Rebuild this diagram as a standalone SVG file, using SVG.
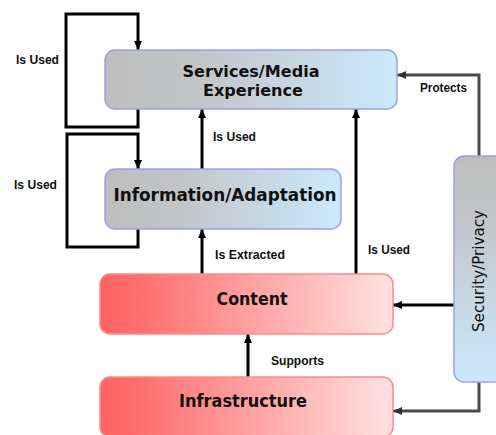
<svg xmlns="http://www.w3.org/2000/svg" width="496" height="435" viewBox="0 0 496 435">
<defs>
<linearGradient id="gBlue" x1="0" y1="0" x2="1" y2="0">
<stop offset="0" stop-color="#bdbdbd"/>
<stop offset="0.3" stop-color="#c2c4c6"/>
<stop offset="1" stop-color="#cbe9fd"/>
</linearGradient>
<linearGradient id="gBlueV" x1="0" y1="0" x2="0" y2="1">
<stop offset="0" stop-color="#bdbdbd"/>
<stop offset="0.25" stop-color="#c2c4c6"/>
<stop offset="1" stop-color="#cbe9fd"/>
</linearGradient>
<linearGradient id="gRed" x1="0" y1="0" x2="1" y2="0">
<stop offset="0" stop-color="#ff6464"/>
<stop offset="0.1" stop-color="#ff6a6a"/>
<stop offset="1" stop-color="#ffe2e2"/>
</linearGradient>
<marker id="arr" markerUnits="userSpaceOnUse" markerWidth="10" markerHeight="10" viewBox="0 0 10 10" refX="9" refY="5" orient="auto">
<path d="M0,1 L9,5 L0,9 z" fill="#000"/>
</marker>
<marker id="arrG" markerUnits="userSpaceOnUse" markerWidth="10" markerHeight="10" viewBox="0 0 10 10" refX="9" refY="5" orient="auto">
<path d="M0,1 L9,5 L0,9 z" fill="#333"/>
</marker>
</defs>
<style>
.bb{stroke:#9d9df5;stroke-width:1.5}
.rb{stroke:#ff8a8a;stroke-width:1.5}
.nt{font-family:"DejaVu Sans",sans-serif;font-weight:bold;fill:#111}
.lt{font-family:"Liberation Sans",sans-serif;font-weight:bold;font-size:12px;fill:#111}
.c{fill:none;stroke:#000;stroke-width:3;marker-end:url(#arr)}
.cg{fill:none;stroke:#4a4a4a;stroke-width:3;marker-end:url(#arrG)}
</style>
<rect width="496" height="435" fill="#fff"/>
<g id="connectors">
<path class="c" d="M138,109 V127 H66 V14 H138 V50"/>
<path class="c" d="M138,229 V247 H67 V134 H138 V169"/>
<path class="c" d="M202,169 V109"/>
<path class="c" d="M202,274 V229"/>
<path class="c" d="M356,274 V109"/>
<path class="c" d="M248,377 V334"/>
<path class="c" d="M454,305 H393"/>
<path class="cg" d="M479,156 V75 H397"/>
<path class="cg" d="M479,382 V411 H393"/>
<text class="lt" x="16" y="64" textLength="43" lengthAdjust="spacingAndGlyphs">Is Used</text>
<text class="lt" x="14" y="189" textLength="43" lengthAdjust="spacingAndGlyphs">Is Used</text>
<text class="lt" x="213" y="141" textLength="43" lengthAdjust="spacingAndGlyphs">Is Used</text>
<text class="lt" x="215" y="259" textLength="70" lengthAdjust="spacingAndGlyphs">Is Extracted</text>
<text class="lt" x="368" y="254" textLength="42" lengthAdjust="spacingAndGlyphs">Is Used</text>
<text class="lt" x="271" y="365" textLength="53" lengthAdjust="spacingAndGlyphs">Supports</text>
<text class="lt" x="420" y="92" textLength="47" lengthAdjust="spacingAndGlyphs">Protects</text>
</g>
<g id="services">
<rect class="bb" x="105" y="50" width="292" height="59" rx="10" fill="url(#gBlue)"/>
<text class="nt" x="251" y="77" font-size="15" text-anchor="middle" textLength="137" lengthAdjust="spacingAndGlyphs">Services/Media</text>
<text class="nt" x="253" y="96" font-size="15" text-anchor="middle" textLength="100" lengthAdjust="spacingAndGlyphs">Experience</text>
</g>
<g id="information">
<rect class="bb" x="105" y="169" width="236" height="60" rx="10" fill="url(#gBlue)"/>
<text class="nt" x="225" y="201" font-size="18" text-anchor="middle" textLength="223" lengthAdjust="spacingAndGlyphs">Information/Adaptation</text>
</g>
<g id="content">
<rect class="rb" x="100" y="274" width="293" height="60" rx="10" fill="url(#gRed)"/>
<text class="nt" x="252" y="305" font-size="17" text-anchor="middle" textLength="71" lengthAdjust="spacingAndGlyphs">Content</text>
</g>
<g id="infrastructure">
<rect class="rb" x="100" y="377" width="293" height="60" rx="10" fill="url(#gRed)"/>
<text class="nt" x="243" y="407" font-size="17" text-anchor="middle" textLength="128" lengthAdjust="spacingAndGlyphs">Infrastructure</text>
</g>
<g id="security">
<rect class="bb" x="454" y="156" width="52" height="226" rx="10" fill="url(#gBlueV)"/>
<text class="nt" x="0" y="0" font-size="15" text-anchor="middle" transform="translate(484,271) rotate(-90)" style="font-weight:normal" textLength="122" lengthAdjust="spacingAndGlyphs">Security/Privacy</text>
</g>
</svg>
